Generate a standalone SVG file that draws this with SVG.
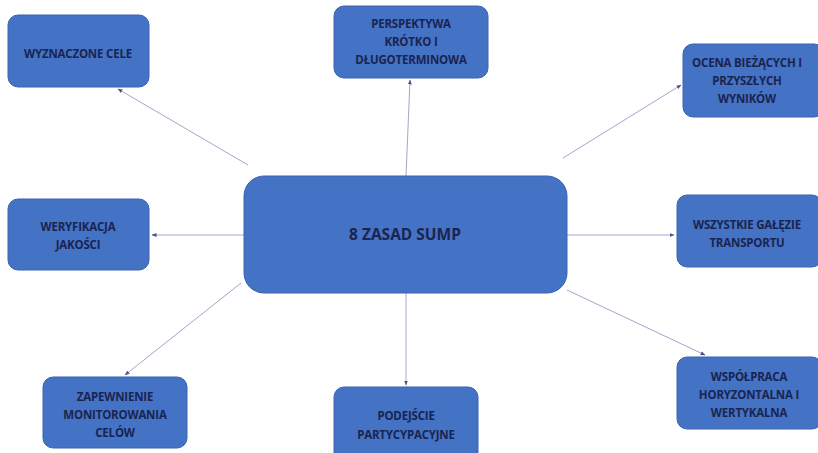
<svg xmlns="http://www.w3.org/2000/svg" width="818" height="453" viewBox="0 0 818 453">
<defs>
<style>
.box{fill:#4472C4;stroke:#3A64B0;stroke-width:1}
.t{font-family:"Open Sans","Liberation Sans",sans-serif;font-weight:700;font-size:11.5px;fill:#1A2450;text-anchor:middle;letter-spacing:-0.2px}
.big{font-size:15.5px;letter-spacing:0}
.c{stroke:#A3A6CC;stroke-width:1;fill:none;marker-end:url(#ah)}
</style>
<marker id="ah" viewBox="0 0 10 10" refX="9" refY="5" markerWidth="5" markerHeight="5" orient="auto">
<path d="M0,1 L10,5 L0,9 z" fill="#4A5590"/>
</marker>
</defs>
<rect width="818" height="453" fill="#ffffff"/>
<g id="connectors">
<line class="c" x1="248" y1="165" x2="118" y2="89"/>
<line class="c" x1="406" y1="176" x2="410" y2="80"/>
<line class="c" x1="563" y1="158" x2="681" y2="85"/>
<line class="c" x1="244" y1="235" x2="152" y2="235"/>
<line class="c" x1="567" y1="235" x2="674" y2="235"/>
<line class="c" x1="241" y1="283" x2="125" y2="375"/>
<line class="c" x1="406" y1="293" x2="406" y2="385"/>
<line class="c" x1="567" y1="290" x2="705" y2="355"/>
</g>
<g id="center">
<rect class="box" x="244" y="176" width="323" height="117" rx="20"/>
<text class="t big" x="405" y="240">8 ZASAD SUMP</text>
</g>
<g id="n1">
<rect class="box" x="8" y="15" width="141" height="72" rx="10"/>
<text class="t" x="78" y="58">WYZNACZONE CELE</text>
</g>
<g id="n2">
<rect class="box" x="334" y="6" width="154" height="72" rx="10"/>
<text class="t" x="411" y="28">PERSPEKTYWA</text>
<text class="t" x="411" y="46">KRÓTKO I</text>
<text class="t" x="411" y="64">DŁUGOTERMINOWA</text>
</g>
<g id="n3">
<rect class="box" x="683" y="44" width="141" height="73" rx="10"/>
<text class="t" x="747" y="67">OCENA BIEŻĄCYCH I</text>
<text class="t" x="747" y="85">PRZYSZŁYCH</text>
<text class="t" x="747" y="103">WYNIKÓW</text>
</g>
<g id="n4">
<rect class="box" x="8" y="199" width="141" height="71" rx="10"/>
<text class="t" x="78" y="231">WERYFIKACJA</text>
<text class="t" x="78" y="249">JAKOŚCI</text>
</g>
<g id="n5">
<rect class="box" x="677" y="195" width="145" height="72" rx="10"/>
<text class="t" x="747" y="229">WSZYSTKIE GAŁĘZIE</text>
<text class="t" x="747" y="247">TRANSPORTU</text>
</g>
<g id="n6">
<rect class="box" x="43" y="377" width="144" height="71" rx="10"/>
<text class="t" x="115" y="401">ZAPEWNIENIE</text>
<text class="t" x="115" y="419">MONITOROWANIA</text>
<text class="t" x="115" y="437">CELÓW</text>
</g>
<g id="n7">
<rect class="box" x="334" y="387" width="144" height="75" rx="10"/>
<text class="t" x="406" y="420">PODEJŚCIE</text>
<text class="t" x="406" y="439">PARTYCYPACYJNE</text>
</g>
<g id="n8">
<rect class="box" x="677" y="357" width="145" height="72" rx="10"/>
<text class="t" x="749" y="381">WSPÓŁPRACA</text>
<text class="t" x="749" y="399">HORYZONTALNA I</text>
<text class="t" x="749" y="417">WERTYKALNA</text>
</g>
</svg>
